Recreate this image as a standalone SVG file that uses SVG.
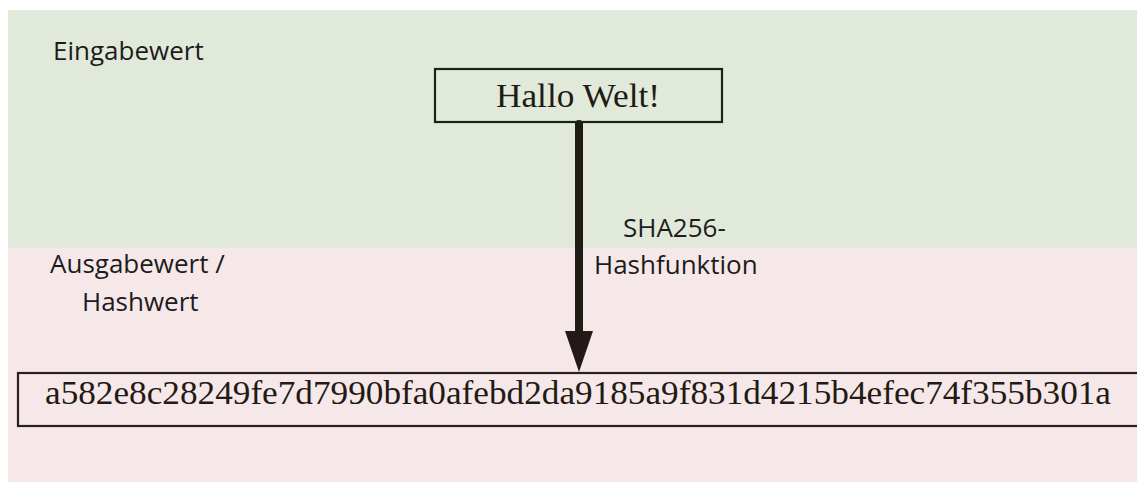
<svg xmlns="http://www.w3.org/2000/svg" width="1137" height="482" viewBox="0 0 1137 482">
  <style>
    .label { font-family: "Open Sans", "Liberation Sans", sans-serif; font-size: 26px; fill: #1c1c1c; }
    .value { font-family: "Liberation Serif", serif; fill: #221a14; }
    .box { fill: none; stroke-width: 2.2; }
  </style>
  <!-- background bands -->
  <rect x="8" y="10" width="1129" height="238" fill="#e1e9da"/>
  <rect x="8" y="248" width="1129" height="234" fill="#f6e8e8"/>

  <g id="band-labels">
    <text class="label" x="53" y="60">Eingabewert</text>
    <text class="label" x="50" y="273">Ausgabewert /</text>
    <text class="label" x="82" y="311">Hashwert</text>
  </g>

  <g id="connectors">
    <line x1="579" y1="124" x2="579" y2="334" stroke="#1f1c14" stroke-width="8" stroke-linecap="round"/>
    <polygon points="565,331 593,331 579,372" fill="#231a18"/>
    <text class="label" x="623" y="237">SHA256-</text>
    <text class="label" x="594" y="274">Hashfunktion</text>
  </g>

  <g id="input">
    <rect class="box" x="435" y="69" width="287" height="53" stroke="#1b2312"/>
    <text class="value" x="496" y="107" font-size="34" textLength="164" lengthAdjust="spacingAndGlyphs" fill="#1b2312">Hallo Welt!</text>
  </g>

  <g id="output">
    <rect class="box" x="18" y="373" width="1130" height="53" stroke="#2a1f1f"/>
    <text class="value" x="45" y="404" font-size="34" textLength="1066" lengthAdjust="spacingAndGlyphs">a582e8c28249fe7d7990bfa0afebd2da9185a9f831d4215b4efec74f355b301a</text>
  </g>
</svg>
